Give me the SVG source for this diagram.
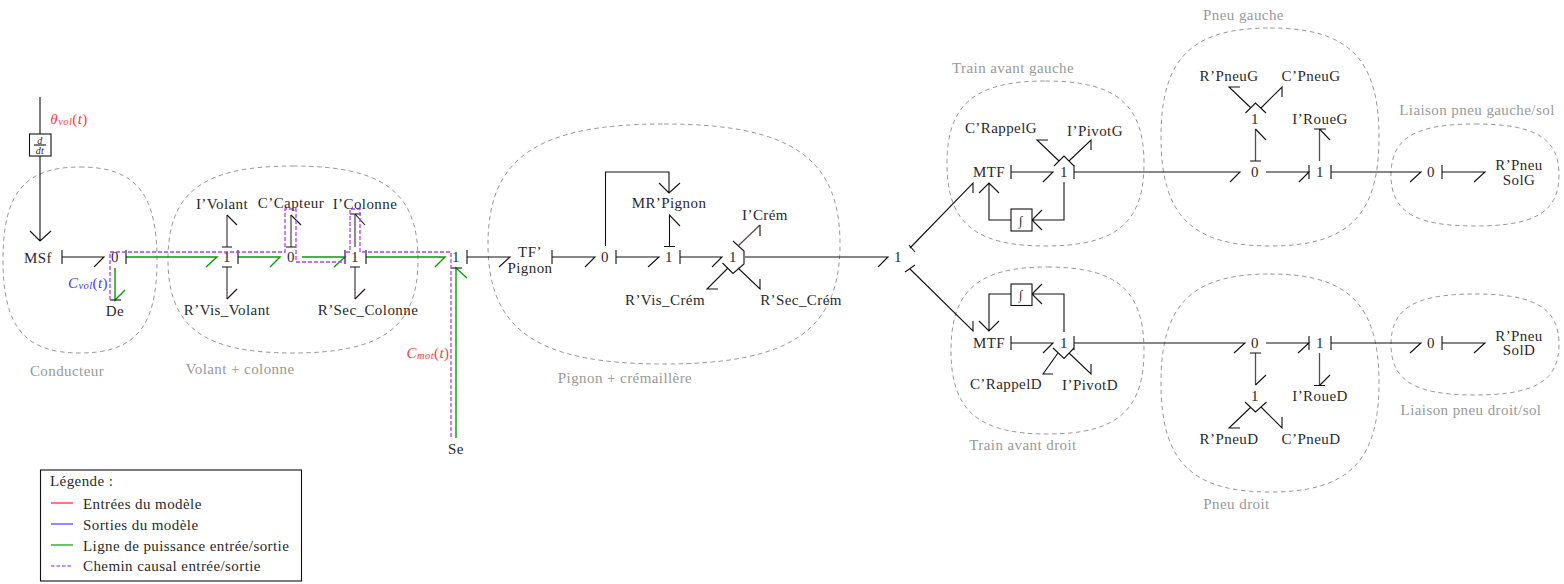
<svg xmlns="http://www.w3.org/2000/svg" width="1564" height="584" viewBox="0 0 1564 584">
<style>
text{font-family:"Liberation Serif","Times New Roman",serif;font-size:15px;letter-spacing:.42px;fill:#2a2a2a;text-anchor:middle;dominant-baseline:central}
.g{fill:#999}
.l{text-anchor:start}
.m{font-style:italic}
.s{font-size:10.500px;font-style:italic}
.blob{fill:none;stroke:#999;stroke-width:1;stroke-dasharray:4.500 3.500}
.b{fill:none;stroke:#111;stroke-width:1.1}
.br{fill:none;stroke:#5f4a4a;stroke-width:1.3}
.gr{fill:none;stroke:#0a9a0a;stroke-width:1.4}
.pu{fill:none;stroke:#b040ff;stroke-width:1.3;stroke-dasharray:4 2}
.box{fill:#fff;stroke:#111;stroke-width:1.1}
.i{font-size:13px;font-weight:normal}
</style>
<g id="zones">
<path class="blob" d="M80 167C135.400 167 157 193 157 260C157 327 135.400 353 80 353C24.600 353 3 327 3 260C3 193 24.600 167 80 167Z"/>
<path class="blob" d="M293 166C383 166 418 192 418 259.500C418 327 383 353 293 353C203 353 168 327 168 259.500C168 192 203 166 293 166Z"/>
<path class="blob" d="M664 124C791 124 840 158 840 244C840 330 791 364 664 364C537 364 488 330 488 244C488 158 537 124 664 124Z"/>
<path class="blob" d="M1045.500 81C1116.500 81 1144 104.500 1144 163.500C1144 222.500 1116.500 246 1045.500 246C974.500 246 947 222.500 947 163.500C947 104.500 974.500 81 1045.500 81Z"/>
<path class="blob" d="M1047.500 267C1117 267 1144 290.500 1144 350.500C1144 410.500 1117 434 1047.500 434C978 434 951 410.500 951 350.500C951 290.500 978 267 1047.500 267Z"/>
<path class="blob" d="M1270 28C1348.500 28 1379 58.500 1379 137C1379 215.500 1348.500 246 1270 246C1191.500 246 1161 215.500 1161 137C1161 58.500 1191.500 28 1270 28Z"/>
<path class="blob" d="M1270 274C1348.500 274 1379 304.500 1379 383C1379 461.500 1348.500 492 1270 492C1191.500 492 1161 461.500 1161 383C1161 304.500 1191.500 274 1270 274Z"/>
<path class="blob" d="M1475 124C1535.500 124 1559 138.300 1559 175C1559 211.700 1535.500 226 1475 226C1414.500 226 1391 211.700 1391 175C1391 138.300 1414.500 124 1475 124Z"/>
<path class="blob" d="M1475 294C1535.500 294 1559 308.500 1559 344.500C1559 380.500 1535.500 395 1475 395C1414.500 395 1391 380.500 1391 344.500C1391 308.500 1414.500 294 1475 294Z"/>
<text class="g" x="67" y="371">Conducteur</text>
<text class="g" x="240" y="369">Volant + colonne</text>
<text class="g" x="625" y="378">Pignon + crémaillère</text>
<text class="g" x="1013" y="68">Train avant gauche</text>
<text class="g" x="1023" y="445">Train avant droit</text>
<text class="g" x="1243.500" y="15">Pneu gauche</text>
<text class="g" x="1236.500" y="504">Pneu droit</text>
<text class="g" x="1477" y="110">Liaison pneu gauche/sol</text>
<text class="g" x="1471" y="410">Liaison pneu droit/sol</text>
</g>
<g id="connectors">
<path class="b" d="M40 97V134M40 156V241M30 231L40 241L51 231"/>
<path class="b" d="M62 250V264M62 257H104L94 267"/>
<path class="gr" d="M126 257H217L206 267"/><path class="b" d="M126 250V264"/>
<path class="gr" d="M115 268V300L125 290"/><path class="b" d="M110 300H121"/>
<path class="br" d="M227 247V215M227 267V299"/><path class="b" d="M222 247H232M227 215L237 225M222 267H232M227 299L237 289"/>
<path class="gr" d="M238 257H280L270 267"/><path class="b" d="M238 250V264"/>
<path class="br" d="M291 247V215"/><path class="b" d="M286 247H296M291 215L301 225"/>
<path class="gr" d="M302 257H345L334 267"/><path class="b" d="M345 250V264"/>
<path class="br" d="M355 247V214M355 267V299"/><path class="b" d="M350 214H361M355 214L365 225M350 267H360M355 299L365 289"/>
<path class="gr" d="M366 257H445L435 267"/><path class="b" d="M366 250V264"/>
<path class="gr" d="M456 438V268L467 278"/><path class="b" d="M451 268H462"/>
<path class="b" d="M467 250V264M467 257H510L499 267"/>
<path class="b" d="M552 250V264M552 257H595L585 267"/>
<path class="b" d="M616 250V264M616 257H659L648 267"/>
<path class="b" d="M605.500 246V172H669V193M659 183L669 193L680 183"/>
<path class="b" d="M664 246.500H675M669.500 246.500V215L680 226"/>
<path class="b" d="M680 250V264M680 257H722L712 267"/>
<path class="b" d="M733 241L744 251V264L733 273.500L722.500 263"/>
<path class="br" d="M738 246L760 225"/><path class="b" d="M760 225V236M728 268L707 289H718M738 268L760 289V279"/>
<path class="b" d="M745 257H888L878 267"/>
<path class="b" d="M909 245L915 252M910 248L973 183V193"/>
<path class="b" d="M905 272L915 265M910 269L973 331V321"/>
<path class="b" d="M1011 165V179M1011 172H1053L1043 182"/>
<path class="b" d="M1054 166L1064 156L1074 166M1059 161L1037 140H1048M1069 161L1091 140V150"/>
<path class="b" d="M1074 165V179M1074 172H1240L1230 182"/>
<path class="b" d="M1064 182V220H1032M1042 210L1032 220L1042 230M1011 220H989V183M979 193L989 183L999 193"/>
<path class="b" d="M1011 336V350M1011 343H1053L1043 353"/>
<path class="b" d="M1053 348L1064 358.500L1074 348M1058 353L1043 374H1053M1069 353L1091 374V364"/>
<path class="b" d="M1074 336V350M1074 343H1245L1234 353"/>
<path class="b" d="M1064 332V294H1032M1042 284L1032 294L1042 304M1011 294H989V331M979 321L989 331L999 321"/>
<path class="br" d="M1255.500 161V129"/><path class="b" d="M1250 161H1261M1255.500 129L1266 140"/>
<path class="b" d="M1245.500 113L1255.500 103L1266 113M1251 108L1229 87H1240M1261 108L1282 87V97"/>
<path class="b" d="M1266 172H1309L1299 182M1309 165V179"/>
<path class="br" d="M1319.500 161V129"/><path class="b" d="M1314 129H1326M1319.500 129L1330 140"/>
<path class="b" d="M1331 165V179M1331 172H1421L1410 182"/>
<path class="b" d="M1442 165V179M1442 172H1485L1474 182"/>
<path class="br" d="M1255.500 353V385"/><path class="b" d="M1250 353H1261M1255.500 385L1266 375"/>
<path class="b" d="M1245 402L1255.500 412L1266.500 402M1251 407L1229 428H1240M1261 407L1282 428V417"/>
<path class="b" d="M1266 343H1309L1298 353M1309 336V350"/>
<path class="br" d="M1319.500 353V385.500"/><path class="b" d="M1314 385.500H1325M1319.500 385.500L1330 375"/>
<path class="b" d="M1331 336V350M1331 343H1421L1410 353"/>
<path class="b" d="M1442 336V350M1442 343H1485L1474 353"/>
<path class="pu" d="M110 300V252H285V209H296V262H345V252H350V209H360V252H451V438"/>
</g>
<g id="n-deriv"><rect class="box" x="29.500" y="134" width="21.500" height="22"/><text class="m" x="40" y="140" style="font-size:10px">d</text><path class="b" d="M34 145H46"/><text class="m" x="40" y="150.500" style="font-size:10px">dt</text></g>
<g id="n-theta"><text x="69" y="119" style="fill:#ff4040"><tspan class="m">θ</tspan><tspan class="s" dy="2">vol</tspan><tspan dy="-2">(</tspan><tspan class="m">t</tspan>)</text></g>
<g id="n-cvol"><text x="88" y="283" style="fill:#4040ff"><tspan class="m">C</tspan><tspan class="s" dy="2">vol</tspan><tspan dy="-2">(</tspan><tspan class="m">t</tspan>)</text></g>
<g id="n-cmot"><text x="428" y="353" style="fill:#ff4040"><tspan class="m">C</tspan><tspan class="s" dy="2">mot</tspan><tspan dy="-2">(</tspan><tspan class="m">t</tspan>)</text></g>
<g id="n-msf"><text x="38" y="258">MSf</text></g>
<g id="n-j01"><text x="115" y="257">0</text></g>
<g id="n-de"><text x="115" y="311">De</text></g>
<g id="n-j11"><text x="227" y="257">1</text></g>
<g id="n-ivolant"><text x="222" y="204">I’Volant</text></g>
<g id="n-rvolant"><text x="227" y="310">R’Vis_Volant</text></g>
<g id="n-j02"><text x="291" y="257">0</text></g>
<g id="n-ccapteur"><text x="291" y="203">C’Capteur</text></g>
<g id="n-j12"><text x="355" y="257">1</text></g>
<g id="n-icolonne"><text x="365" y="204">I’Colonne</text></g>
<g id="n-rcolonne"><text x="368" y="310">R’Sec_Colonne</text></g>
<g id="n-j13"><text x="456" y="257">1</text></g>
<g id="n-se"><text x="456" y="449">Se</text></g>
<g id="n-tf"><text x="530" y="252">TF’</text><text x="530" y="268">Pignon</text></g>
<g id="n-j03"><text x="605" y="257">0</text></g>
<g id="n-j14"><text x="669" y="257">1</text></g>
<g id="n-mr"><text x="669" y="203">MR’Pignon</text></g>
<g id="n-j15"><text x="733" y="257">1</text></g>
<g id="n-icrem"><text x="765" y="215">I’Crém</text></g>
<g id="n-rviscrem"><text x="665" y="300">R’Vis_Crém</text></g>
<g id="n-rseccrem"><text x="801" y="300">R’Sec_Crém</text></g>
<g id="n-j16"><text x="898" y="257">1</text></g>
<g id="n-mtfg"><text x="989" y="172">MTF</text></g>
<g id="n-j17"><text x="1064" y="172">1</text></g>
<g id="n-rappelg"><text x="1001" y="128">C’RappelG</text></g>
<g id="n-pivotg"><text x="1095" y="131">I’PivotG</text></g>
<g id="n-intg"><rect class="box" x="1011" y="209" width="21" height="22"/><text class="m i" x="1021" y="220">∫</text></g>
<g id="n-mtfd"><text x="989" y="343">MTF</text></g>
<g id="n-j18"><text x="1064" y="343">1</text></g>
<g id="n-rappeld"><text x="1006" y="384">C’RappelD</text></g>
<g id="n-pivotd"><text x="1090" y="385">I’PivotD</text></g>
<g id="n-intd"><rect class="box" x="1011" y="284" width="21" height="21.500"/><text class="m i" x="1021" y="294">∫</text></g>
<g id="n-j04"><text x="1255" y="172">0</text></g>
<g id="n-j19"><text x="1255" y="119">1</text></g>
<g id="n-rpneug"><text x="1229" y="76">R’PneuG</text></g>
<g id="n-cpneug"><text x="1311" y="76">C’PneuG</text></g>
<g id="n-j110"><text x="1320" y="172">1</text></g>
<g id="n-iroueg"><text x="1320" y="119">I’RoueG</text></g>
<g id="n-j05"><text x="1431" y="172">0</text></g>
<g id="n-solg"><text x="1519" y="165">R’Pneu</text><text x="1519" y="180">SolG</text></g>
<g id="n-j06"><text x="1255" y="343">0</text></g>
<g id="n-j111"><text x="1255" y="396">1</text></g>
<g id="n-rpneud"><text x="1229" y="439">R’PneuD</text></g>
<g id="n-cpneud"><text x="1311" y="439">C’PneuD</text></g>
<g id="n-j112"><text x="1320" y="343">1</text></g>
<g id="n-iroued"><text x="1320" y="396">I’RoueD</text></g>
<g id="n-j07"><text x="1431" y="343">0</text></g>
<g id="n-sold"><text x="1519" y="336">R’Pneu</text><text x="1519" y="350">SolD</text></g>
<g id="legend">
<rect x="40.500" y="470" width="261" height="111" fill="#fff" stroke="#111" stroke-width="1.100"/>
<text class="l" x="50" y="481">Légende :</text>
<path d="M51 503H73" stroke="#ff2020" stroke-width="1.200"/><text class="l" x="83" y="503.500">Entrées du modèle</text>
<path d="M51 524H73" stroke="#4040ff" stroke-width="1.200"/><text class="l" x="83" y="524.500">Sorties du modèle</text>
<path d="M51 545H73" stroke="#0a9a0a" stroke-width="1.200"/><text class="l" x="83" y="545.500">Ligne de puissance entrée/sortie</text>
<path d="M51 566H73" stroke="#8020f0" stroke-width="1.200" stroke-dasharray="3.500 2"/><text class="l" x="83" y="566">Chemin causal entrée/sortie</text>
</g>
</svg>
